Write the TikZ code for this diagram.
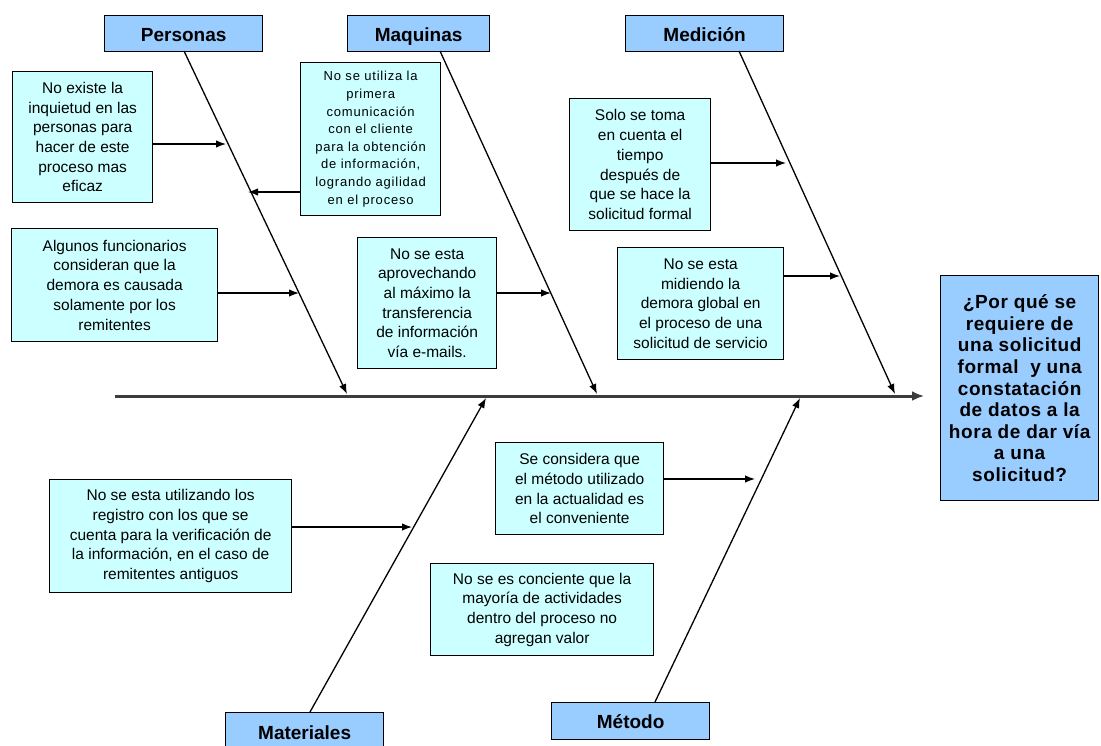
\documentclass[tikz,border=0pt]{standalone}
\usepackage{fontspec}
\setmainfont{Liberation Sans}
\newfontfamily\causefont{Liberation Sans}
\newfontfamily\smallcause[LetterSpace=6]{Liberation Sans}
\newfontfamily\effectfont[LetterSpace=3]{Liberation Sans}
\usetikzlibrary{arrows.meta}
\definecolor{catblue}{RGB}{153,204,255}
\definecolor{causecyan}{RGB}{204,255,255}
\definecolor{spinegray}{RGB}{60,60,60}
\tikzset{
  box/.style={draw=black, line width=1.3pt, inner sep=0pt, anchor=north west, align=center},
  catbox/.style={box, fill=catblue, text height=16.5pt, text depth=1pt,
    font=\bfseries\fontsize{19}{22}\selectfont},
  causebox/.style={box, fill=causecyan, font=\causefont\fontsize{15.5}{19.7}\selectfont},
  effectbox/.style={box, fill=catblue, font=\effectfont\bfseries\fontsize{19}{21.6}\selectfont},
  bone/.style={draw=black, line width=1.3pt, -{Latex[length=10pt,width=7.5pt]}},
  arr/.style={draw=black, line width=1.3pt, -{Latex[length=10pt,width=7.5pt]}},
  spine/.style={draw=spinegray, line width=3pt, -{Latex[length=12pt,width=10pt]}},
}
\begin{document}
\begin{tikzpicture}[x=1pt,y=-1pt]
\clip (0,0) rectangle (1101,745);
\fill[white] (0,0) rectangle (1101,745);

% category boxes
\node[catbox, minimum width=158pt, minimum height=36pt] (pers) at (104,15) {Personas};
\node[catbox, minimum width=142pt, minimum height=36pt] (maq)  at (347,15) {Maquinas};
\node[catbox, minimum width=158pt, minimum height=36pt] (med)  at (625,15) {Medición};
\node[catbox, minimum width=158pt, minimum height=38pt] (mat)  at (225,712) {Materiales};
\node[catbox, minimum width=158pt, minimum height=37pt] (met)  at (551,702) {Método};

% effect box
\node[effectbox, minimum width=158pt, minimum height=225pt] (effect) at (940,275)
  {¿Por qué se\\requiere de\\una solicitud\\formal\ \ y una\\constatación\\de datos a la\\hora de dar vía\\a una\\solicitud?};

% cause boxes
\node[causebox, minimum width=140pt, minimum height=131pt] (c1) at (12,71)
  {No existe la\\inquietud en las\\personas para\\hacer de este\\proceso mas\\eficaz};
\node[causebox, minimum width=140pt, minimum height=153pt,
      font=\smallcause\fontsize{13}{17.6}\selectfont] (c2) at (300,62)
  {No se utiliza la\\primera\\comunicación\\con el cliente\\para la obtención\\de información,\\logrando agilidad\\en el proceso};
\node[causebox, minimum width=206pt, minimum height=113pt] (c3) at (11,228)
  {Algunos funcionarios\\consideran que la\\demora es causada\\solamente por los\\remitentes};
\node[causebox, minimum width=139pt, minimum height=131pt] (c4) at (357,237)
  {No se esta\\aprovechando\\al máximo la\\transferencia\\de información\\vía e-mails.};
\node[causebox, minimum width=141pt, minimum height=132pt] (c5) at (569,98)
  {Solo se toma\\en cuenta el\\tiempo\\después de\\que se hace la\\solicitud formal};
\node[causebox, minimum width=166pt, minimum height=112pt] (c6) at (617,247)
  {No se esta\\midiendo la\\demora global en\\el proceso de una\\solicitud de servicio};
\node[causebox, minimum width=242pt, minimum height=113pt] (c7) at (49,479)
  {No se esta utilizando los\\registro con los que se\\cuenta para la verificación de\\la información, en el caso de\\remitentes antiguos};
\node[causebox, minimum width=168pt, minimum height=92pt] (c8) at (495,442)
  {Se considera que\\el método utilizado\\en la actualidad es\\el conveniente};
\node[causebox, minimum width=223pt, minimum height=92pt] (c9) at (430,563)
  {No se es conciente que la\\mayoría de actividades\\dentro del proceso no\\agregan valor};

% spine
\coordinate (spineL) at (115,396);
\coordinate (spineR) at (924,396);
\draw[spine] (spineL) -- (spineR);

% bones
\coordinate (persTop) at (184,51);  \coordinate (persEnd) at (347,394);
\coordinate (maqTop)  at (440,51);  \coordinate (maqEnd)  at (597,394);
\coordinate (medTop)  at (739,51);  \coordinate (medEnd)  at (895,394);
\coordinate (matBot)  at (310,712); \coordinate (matEnd)  at (486,398);
\coordinate (metBot)  at (655,702); \coordinate (metEnd)  at (800,398);
\draw[bone] (persTop) -- (persEnd);
\draw[bone] (maqTop) -- (maqEnd);
\draw[bone] (medTop) -- (medEnd);
\draw[bone] (matBot) -- (matEnd);
\draw[bone] (metBot) -- (metEnd);

% cause arrows
\coordinate (t1) at (226,144);
\coordinate (t2) at (248,192);
\coordinate (t3) at (299,293);
\coordinate (t4) at (551,293);
\coordinate (t5) at (786,163);
\coordinate (t6) at (840,276);
\coordinate (t7) at (412,527);
\coordinate (t8) at (755,479);
\draw[arr] (c1.east |- t1) -- (t1);
\draw[arr] (c2.west |- t2) -- (t2);
\draw[arr] (c3.east |- t3) -- (t3);
\draw[arr] (c4.east |- t4) -- (t4);
\draw[arr] (c5.east |- t5) -- (t5);
\draw[arr] (c6.east |- t6) -- (t6);
\draw[arr] (c7.east |- t7) -- (t7);
\draw[arr] (c8.east |- t8) -- (t8);
\end{tikzpicture}
\end{document}
